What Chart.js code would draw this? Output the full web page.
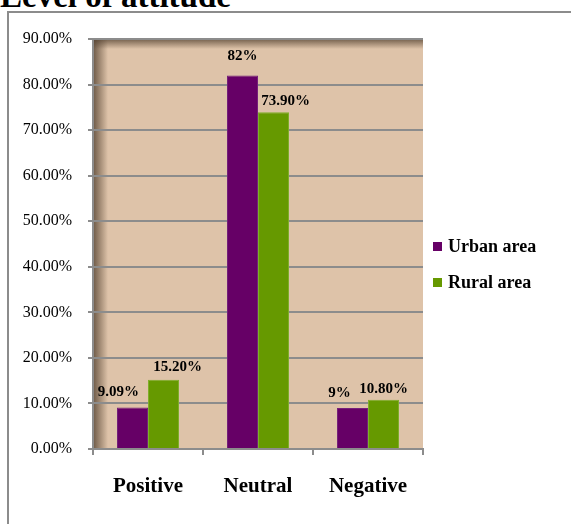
<!DOCTYPE html>
<html>
<head>
<meta charset="utf-8">
<script src="https://cdn.jsdelivr.net/npm/chart.js@4/dist/chart.umd.min.js"></script>
<style>
  html, body { margin: 0; padding: 0; background: #fff; overflow: hidden; }
  #wrap { position: relative; width: 571px; height: 524px; overflow: hidden; }
  #title { position: absolute; left: 0; top: -20px; font: bold 33px/33px "Liberation Serif", serif; color: #000; white-space: nowrap; }
  #box { position: absolute; left: 7px; top: 11px; width: 600px; height: 600px; border-left: 2px solid #8c8c8c; border-top: 2px solid #8c8c8c; box-sizing: border-box; }
  #chart { position: absolute; left: 0; top: 0; }
  #legend { position: absolute; left: 433px; top: 237px; font: bold 18px "Liberation Serif", serif; color: #000; }
  #legend .item { display: flex; align-items: center; height: 18px; margin-bottom: 18px; }
  #legend .sw { width: 9px; height: 9px; margin-right: 6px; }
</style>
</head>
<body>
<div id="wrap">
  <div id="title">Level of attitude</div>
  <div id="box"></div>
  <canvas id="chart" width="571" height="524"></canvas>
  <div id="legend"></div>
</div>
<script>
// data
const categories = ['Positive', 'Neutral', 'Negative'];
const seriesNames = ['Urban area', 'Rural area'];
const urbanValues = [9.09, 82, 9];
const ruralValues = [15.2, 73.9, 10.8];
const urbanLabels = ['9.09%', '82%', '9%'];
const ruralLabels = ['15.20%', '73.90%', '10.80%'];
const yTicks = [0, 10, 20, 30, 40, 50, 60, 70, 80, 90];

const colors = ['#660066', '#669900'];
const borders = ['#74207a', '#7fae2a'];
// label nudges (px) relative to bar top centre, as placed in the original
const labelNudge = [
  [[-14, -15], [0, -19], [-13, -15]],
  [[14, -13], [12, -11], [0, -11]]
];

const serif = '"Liberation Serif", "Times New Roman", serif';

const plotBg = {
  id: 'plotBg',
  beforeDraw(chart) {
    const { ctx, chartArea: a } = chart;
    ctx.save();
    ctx.fillStyle = '#dec3a9';
    ctx.fillRect(a.left, a.top, a.right - a.left, a.bottom - a.top);
    // inner shadow left
    let g = ctx.createLinearGradient(a.left, 0, a.left + 15, 0);
    g.addColorStop(0, 'rgba(80,62,45,0.8)');
    g.addColorStop(1, 'rgba(80,62,45,0)');
    ctx.fillStyle = g;
    ctx.fillRect(a.left, a.top, 15, a.bottom - a.top);
    // inner shadow top
    g = ctx.createLinearGradient(0, a.top, 0, a.top + 10);
    g.addColorStop(0, 'rgba(80,62,45,0.75)');
    g.addColorStop(1, 'rgba(80,62,45,0)');
    ctx.fillStyle = g;
    ctx.fillRect(a.left, a.top, a.right - a.left, 10);
    ctx.restore();
  }
};

const barLabels = {
  id: 'barLabels',
  afterDatasetsDraw(chart) {
    const { ctx } = chart;
    const texts = [urbanLabels, ruralLabels];
    ctx.save();
    ctx.font = 'bold 15px ' + serif;
    ctx.fillStyle = '#000';
    ctx.textAlign = 'center';
    ctx.textBaseline = 'middle';
    chart.data.datasets.forEach((ds, di) => {
      chart.getDatasetMeta(di).data.forEach((bar, i) => {
        const [dx, dy] = labelNudge[di][i];
        ctx.fillText(texts[di][i], bar.x + dx, bar.y + dy);
      });
    });
    ctx.restore();
  }
};

new Chart(document.getElementById('chart'), {
  type: 'bar',
  data: {
    labels: categories,
    datasets: [
      { label: seriesNames[0], data: urbanValues, backgroundColor: colors[0], borderColor: borders[0], borderWidth: 1 },
      { label: seriesNames[1], data: ruralValues, backgroundColor: colors[1], borderColor: borders[1], borderWidth: 1 }
    ]
  },
  options: {
    responsive: false,
    animation: false,
    categoryPercentage: 0.564,
    barPercentage: 1,
    layout: { padding: { top: 39, right: 148, left: 0, bottom: 0 } },
    plugins: { legend: { display: false }, tooltip: { enabled: false } },
    scales: {
      x: {
        afterFit: s => { s.height = 75; },
        grid: { offset: true, drawOnChartArea: false, drawTicks: true, tickLength: 6, color: '#8c8c8c', lineWidth: 2 },
        border: { color: '#8c8c8c', width: 2 },
        ticks: { color: '#000', padding: 19, font: { family: serif, size: 21, weight: 'bold' } }
      },
      y: {
        min: 0, max: 90,
        afterFit: s => { s.width = 93; },
        afterBuildTicks: s => { s.ticks = yTicks.map(v => ({ value: v })); },
        grid: { color: '#8c8c8c', lineWidth: 2, tickLength: 5 },
        border: { color: '#8c8c8c', width: 2 },
        ticks: { color: '#000', padding: 16, font: { family: serif, size: 16 }, callback: v => v.toFixed(2) + '%' }
      }
    }
  },
  plugins: [plotBg, barLabels]
});

// legend
const legend = document.getElementById('legend');
seriesNames.forEach((name, i) => {
  const item = document.createElement('div');
  item.className = 'item';
  const sw = document.createElement('span');
  sw.className = 'sw';
  sw.style.background = colors[i];
  item.appendChild(sw);
  item.appendChild(document.createTextNode(name));
  legend.appendChild(item);
});
</script>
</body>
</html>
